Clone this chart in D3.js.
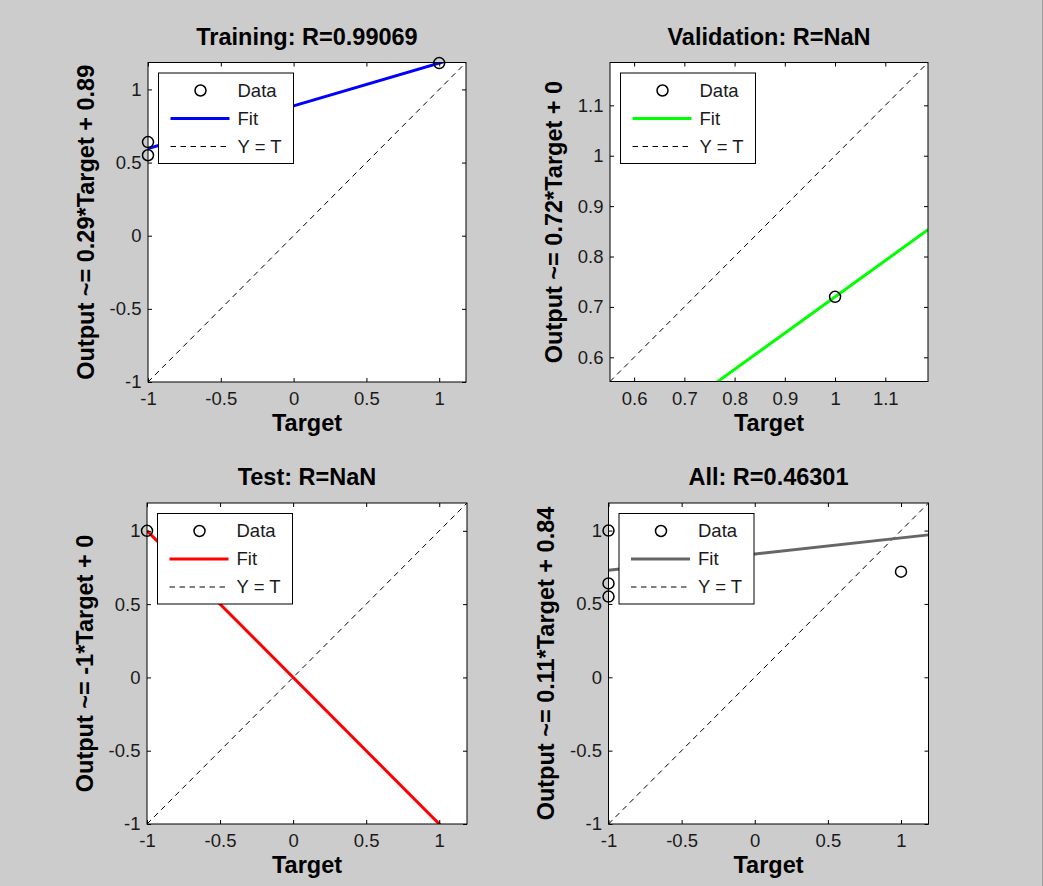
<!DOCTYPE html>
<html>
<head>
<meta charset="utf-8">
<script src="https://cdn.jsdelivr.net/npm/d3@7/dist/d3.min.js"></script>
<style>
  html, body { margin: 0; padding: 0; background: #cccccc; }
  svg { display: block; }
  text { font-family: "Liberation Sans", Arial, sans-serif; }
</style>
</head>
<body>
<svg id="chart" width="1043" height="886"></svg>
<script>
// ---------------- data ----------------
const panelTitles = ["Training: R=0.99069", "Validation: R=NaN", "Test: R=NaN", "All: R=0.46301"];
const yAxisLabels = [
  "Output ~= 0.29*Target + 0.89",
  "Output ~= 0.72*Target + 0",
  "Output ~= -1*Target + 0",
  "Output ~= 0.11*Target + 0.84"
];
const xAxisLabel = "Target";
const legendLabels = ["Data", "Fit", "Y = T"];

const trainTargets = [-1, -1, 1];
const trainOutputs = [0.64, 0.55, 1.18];
const valTargets = [1];
const valOutputs = [0.72];
const testTargets = [-1];
const testOutputs = [1];
const allTargets = [-1, -1, -1, 1];
const allOutputs = [1, 0.64, 0.55, 0.72];

const fitSlopes = [0.2925, 0.72, -1, 0.11];
const fitIntercepts = [0.8875, 0, 0, 0.84];

const axisLimits = [[-1, 1.184], [0.552, 1.185], [-1, 1.19], [-1, 1.188]];
const tickValuesFull = [-1, -0.5, 0, 0.5, 1];
const tickLabelsFull = ["-1", "-0.5", "0", "0.5", "1"];
const tickValuesVal = [0.6, 0.7, 0.8, 0.9, 1, 1.1];
const tickLabelsVal = ["0.6", "0.7", "0.8", "0.9", "1", "1.1"];

// ---------------- layout / style ----------------
const fitColors = ["#0000ff", "#00ff00", "#ff0000", "#666666"];
const boxes = [
  { x0: 148, x1: 466, y0: 62.5, y1: 382 },
  { x0: 610, x1: 928, y0: 62.5, y1: 381.5 },
  { x0: 147, x1: 467, y0: 503, y1: 824 },
  { x0: 608.5, x1: 928.5, y0: 503, y1: 824 }
];

const panels = [
  { t: trainTargets, o: trainOutputs, ticks: tickValuesFull, labels: tickLabelsFull },
  { t: valTargets, o: valOutputs, ticks: tickValuesVal, labels: tickLabelsVal },
  { t: testTargets, o: testOutputs, ticks: tickValuesFull, labels: tickLabelsFull },
  { t: allTargets, o: allOutputs, ticks: tickValuesFull, labels: tickLabelsFull }
];

const svg = d3.select("#chart");
svg.append("rect").attr("width", 1043).attr("height", 886).attr("fill", "#cccccc");
svg.append("rect").attr("x", 1042).attr("y", 0).attr("width", 1).attr("height", 886).attr("fill", "#9c9c9c");

const TICK_FONT = 18.5;
const BOLD_FONT = 23.5;
const TEXT_COLOR = "#1a1a1a";
const DASH = "5.5,4.5";

panels.forEach((p, i) => {
  const b = boxes[i];
  const lim = axisLimits[i];
  const x = d3.scaleLinear().domain(lim).range([b.x0, b.x1]);
  const y = d3.scaleLinear().domain(lim).range([b.y1, b.y0]);
  const g = svg.append("g");

  g.append("rect").attr("x", b.x0).attr("y", b.y0)
    .attr("width", b.x1 - b.x0).attr("height", b.y1 - b.y0).attr("fill", "#ffffff");

  const clipId = "clip" + i;
  svg.append("clipPath").attr("id", clipId).append("rect")
    .attr("x", b.x0).attr("y", b.y0).attr("width", b.x1 - b.x0).attr("height", b.y1 - b.y0);

  const lines = g.append("g").attr("clip-path", `url(#${clipId})`);
  const line = d3.line().x(d => x(d[0])).y(d => y(d[1]));

  // Y = T
  lines.append("path")
    .attr("d", line([[lim[0], lim[0]], [lim[1], lim[1]]]))
    .attr("fill", "none").attr("stroke", "#000").attr("stroke-width", 1)
    .attr("stroke-dasharray", DASH);

  // Fit
  const fy = v => fitSlopes[i] * v + fitIntercepts[i];
  lines.append("path")
    .attr("d", line([[lim[0], fy(lim[0])], [lim[1], fy(lim[1])]]))
    .attr("fill", "none").attr("stroke", fitColors[i]).attr("stroke-width", 3);

  // Data points
  g.selectAll("circle.pt").data(p.t.map((t, k) => [t, p.o[k]])).enter()
    .append("circle").attr("class", "pt")
    .attr("cx", d => x(d[0])).attr("cy", d => y(d[1])).attr("r", 5.5)
    .attr("fill", "none").attr("stroke", "#000").attr("stroke-width", 1.5);

  // Axes (ticks inward on all sides)
  const fmt = v => p.labels[p.ticks.indexOf(v)];
  const styleAxis = sel => {
    sel.select(".domain").remove();
    sel.selectAll(".tick line").attr("stroke", "#000");
    sel.selectAll(".tick text").attr("fill", TEXT_COLOR)
      .style("font-size", TICK_FONT + "px").style("font-family", '"Liberation Sans", Arial, sans-serif');
  };
  const leftAxis = g.append("g").attr("transform", `translate(${b.x0},0)`)
    .call(d3.axisLeft(y).tickValues(p.ticks).tickFormat(fmt).tickSizeInner(-4).tickSizeOuter(0).tickPadding(6.5))
    .call(styleAxis);
  g.append("g").attr("transform", `translate(0,${b.y1})`)
    .call(d3.axisBottom(x).tickValues(p.ticks).tickFormat(fmt).tickSizeInner(-4).tickSizeOuter(0).tickPadding(10))
    .call(styleAxis);
  g.append("g").attr("transform", `translate(0,${b.y0})`)
    .call(d3.axisTop(x).tickValues(p.ticks).tickFormat("").tickSizeInner(-4).tickSizeOuter(0))
    .call(styleAxis);
  g.append("g").attr("transform", `translate(${b.x1},0)`)
    .call(d3.axisRight(y).tickValues(p.ticks).tickFormat("").tickSizeInner(-4).tickSizeOuter(0))
    .call(styleAxis);

  // Box
  g.append("rect").attr("x", b.x0).attr("y", b.y0)
    .attr("width", b.x1 - b.x0).attr("height", b.y1 - b.y0)
    .attr("fill", "none").attr("stroke", "#000").attr("stroke-width", 1);

  // Legend
  const lg = g.append("g").attr("transform", `translate(${b.x0 + 10.5},${b.y0 + 10.5})`);
  lg.append("rect").attr("width", 135).attr("height", 90.5)
    .attr("fill", "#fff").attr("stroke", "#000").attr("stroke-width", 1);
  const rows = [17.5, 45.5, 73.5];
  lg.append("circle").attr("cx", 42).attr("cy", rows[0]).attr("r", 5.5)
    .attr("fill", "none").attr("stroke", "#000").attr("stroke-width", 1.5);
  lg.append("line").attr("x1", 12).attr("x2", 71).attr("y1", rows[1]).attr("y2", rows[1])
    .attr("stroke", fitColors[i]).attr("stroke-width", 3);
  lg.append("line").attr("x1", 12).attr("x2", 71).attr("y1", rows[2]).attr("y2", rows[2])
    .attr("stroke", "#000").attr("stroke-width", 1).attr("stroke-dasharray", DASH);
  legendLabels.forEach((txt, k) => {
    lg.append("text").attr("x", 79).attr("y", rows[k]).attr("dy", "0.35em")
      .attr("fill", TEXT_COLOR).style("font-size", TICK_FONT + "px").text(txt);
  });

  const cx = (b.x0 + b.x1) / 2;
  const cy = (b.y0 + b.y1) / 2;

  g.append("text").attr("x", cx).attr("y", b.y0 - 18).attr("text-anchor", "middle")
    .attr("fill", "#000").style("font-size", BOLD_FONT + "px").style("font-weight", "bold")
    .text(panelTitles[i]);

  g.append("text").attr("x", cx).attr("y", b.y1 + 49).attr("text-anchor", "middle")
    .attr("fill", "#000").style("font-size", BOLD_FONT + "px").style("font-weight", "bold")
    .text(xAxisLabel);

  let maxW = 0;
  leftAxis.selectAll(".tick text").each(function () {
    maxW = Math.max(maxW, this.getBBox().width);
  });
  const ylx = b.x0 - 6.5 - maxW - 16;
  g.append("text").attr("transform", `translate(${ylx},${cy}) rotate(-90)`)
    .attr("text-anchor", "middle")
    .attr("fill", "#000").style("font-size", BOLD_FONT + "px").style("font-weight", "bold")
    .text(yAxisLabels[i]);
});
</script>
</body>
</html>
